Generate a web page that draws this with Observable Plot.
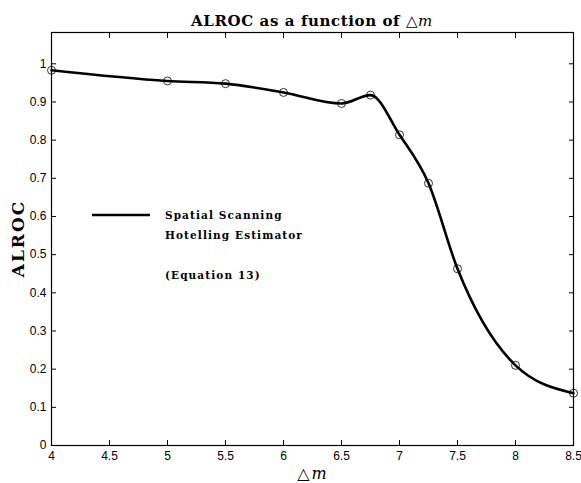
<!DOCTYPE html>
<html>
<head>
<meta charset="utf-8">
<script src="https://cdn.jsdelivr.net/npm/d3@7"></script>
<script src="https://cdn.jsdelivr.net/npm/@observablehq/plot@0.6"></script>
<style>
  html, body { margin: 0; padding: 0; background: #fff; }
  #chart svg { display: block; }
</style>
</head>
<body>
<div id="chart"></div>
<script>
// Data
const deltaM = [4, 5, 5.5, 6, 6.5, 6.75, 7, 7.25, 7.5, 8, 8.5];
const alroc  = [0.983, 0.955, 0.948, 0.925, 0.896, 0.918, 0.814, 0.687, 0.463, 0.210, 0.137];
const xTicks = [4, 4.5, 5, 5.5, 6, 6.5, 7, 7.5, 8, 8.5];
const yTicks = [0, 0.1, 0.2, 0.3, 0.4, 0.5, 0.6, 0.7, 0.8, 0.9, 1];
const legendLines = ["Spatial Scanning", "Hotelling Estimator", "", "(Equation 13)"];

const data = deltaM.map((x, i) => ({x, y: alroc[i]}));

const W = 581, H = 483;
const plot = Plot.plot({
  width: W,
  height: H,
  marginLeft: 51,
  marginRight: 8,
  marginTop: 32,
  marginBottom: 38,
  style: {fontFamily: "'Liberation Sans', Arial, sans-serif", fontSize: "12px", color: "black", background: "white"},
  x: {domain: [4, 8.5], label: null},
  y: {domain: [0, 1.082], label: null},
  marks: [
    Plot.axisX({anchor: "bottom", ticks: xTicks, tickSize: -5, tickPadding: 11, tickFormat: d => String(d), label: null, fontSize: 12}),
    Plot.axisX({anchor: "top", ticks: xTicks, tickSize: -5, tickFormat: () => "", label: null}),
    Plot.axisY({anchor: "left", ticks: yTicks, tickSize: -5, tickPadding: 10, tickFormat: d => String(d), label: null, fontSize: 12}),
    Plot.axisY({anchor: "right", ticks: yTicks, tickSize: -5, tickFormat: () => "", label: null}),
    Plot.frame({stroke: "black", strokeWidth: 1.2}),
    Plot.line(data, {x: "x", y: "y", curve: "monotone-x", stroke: "black", strokeWidth: 2.6}),
    Plot.dot(data, {x: "x", y: "y", r: 4, stroke: "black", strokeWidth: 0.8, fill: "none"})
  ]
});

const svg = d3.select(plot);
const serif = "'DejaVu Serif', 'Liberation Serif', serif";

// Title
const title = svg.append("text")
  .attr("x", (51 + 573) / 2).attr("y", 26)
  .attr("text-anchor", "middle")
  .attr("font-family", serif).attr("font-weight", "bold").attr("font-size", 15)
  .attr("letter-spacing", 0.6)
  .attr("fill", "black");
title.append("tspan").text("ALROC as a function of \u25B3");
title.append("tspan").attr("font-style", "italic").attr("font-weight", "normal").text("m");

// X label
const xl = svg.append("text")
  .attr("x", (51 + 573) / 2).attr("y", 479)
  .attr("text-anchor", "middle")
  .attr("font-family", serif).attr("font-size", 16).attr("fill", "black");
xl.append("tspan").text("\u25B3");
xl.append("tspan").attr("font-style", "italic").attr("dx", 2).text("m");

// Y label
svg.append("text")
  .attr("transform", `translate(24,${(32 + 445) / 2}) rotate(-90)`)
  .attr("text-anchor", "middle")
  .attr("font-family", serif).attr("font-weight", "bold").attr("font-size", 17)
  .attr("letter-spacing", 2).attr("fill", "black")
  .text("ALROC");

// Legend
svg.append("line")
  .attr("x1", 92).attr("x2", 150).attr("y1", 215).attr("y2", 215)
  .attr("stroke", "black").attr("stroke-width", 2.6);
legendLines.forEach((t, i) => {
  if (!t) return;
  svg.append("text")
    .attr("x", 165).attr("y", 219 + i * 20)
    .attr("text-anchor", "start")
    .attr("font-family", serif).attr("font-weight", "bold").attr("font-size", 10.5)
    .attr("letter-spacing", 1.1).attr("fill", "black")
    .text(t);
});

document.getElementById("chart").appendChild(plot);
</script>
</body>
</html>
